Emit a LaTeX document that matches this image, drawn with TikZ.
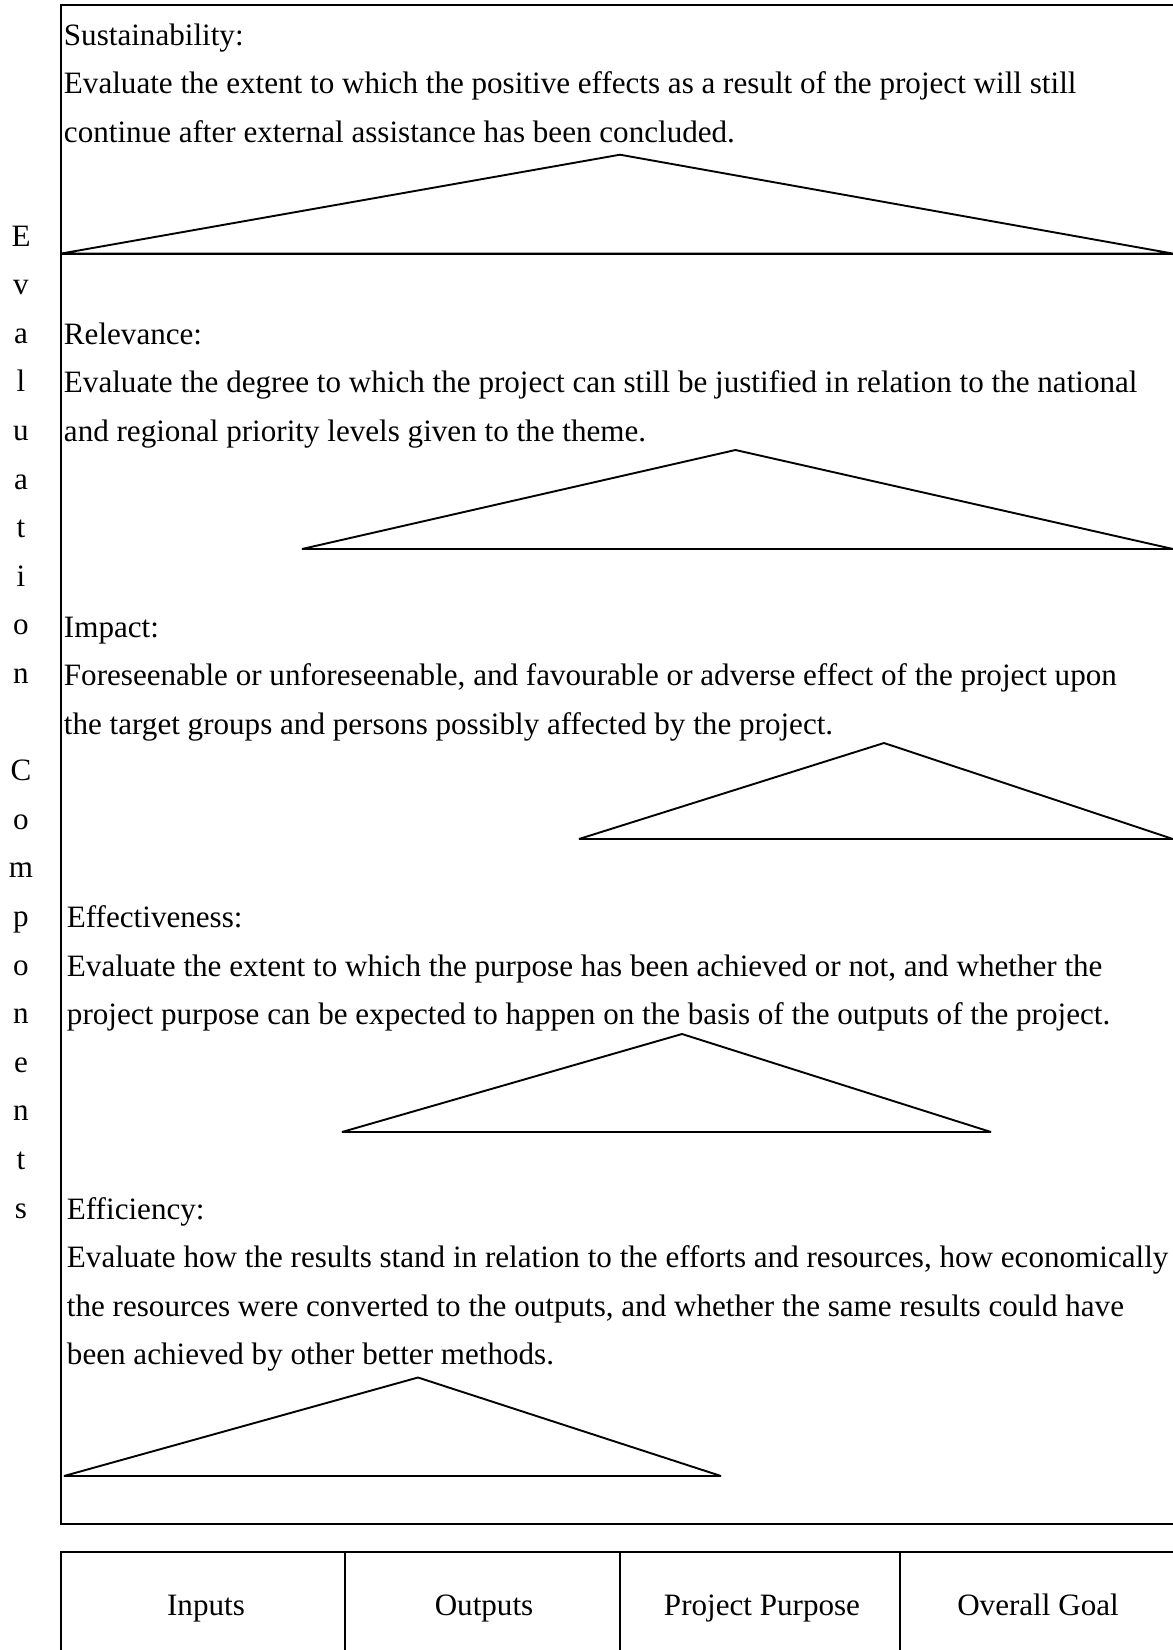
\documentclass[tikz,border=0pt]{standalone}
\usepackage{fontspec}
\setmainfont{Liberation Serif}
\begin{document}
\begin{tikzpicture}[x=1pt,y=-1pt,line width=1.9pt,
  body/.style={anchor=base west,inner sep=0pt,font=\fontsize{31.1}{36}\selectfont},
  letter/.style={anchor=base,inner sep=0pt,font=\fontsize{31.1}{36}\selectfont},
  boxlabel/.style={anchor=base,inner sep=0pt,font=\fontsize{31.1}{36}\selectfont},
  tri/.style={draw,line width=1.9pt,line join=miter,miter limit=4}]
\useasboundingbox (0,0) rectangle (1173,1650);

% outer frame of the evaluation components (open on the right)
\draw (1173,5) -- (61,5) -- (61,1524) -- (1173,1524);
\draw (61,253.6) -- (1173,253.6);

% vertical caption
\foreach \ch [count=\i from 0] in {E,v,a,l,u,a,t,i,o,n,{},C,o,m,p,o,n,e,n,t,s}
  \node[letter] (cap\i) at (21,{246+48.6*\i}) {\ch};

% Sustainability
\node[body] (sus1) at (63,45) {Sustainability:};
\node[body] (sus2) at (63,93.6) {Evaluate the extent to which the positive effects as a result of the project will still};
\node[body] (sus3) at (63,142.2) {continue after external assistance has been concluded.};
\draw[tri] (61,253.6) -- (620,154.7) -- (1173,253.6) -- cycle;

% Relevance
\node[body] (rel1) at (63,344.2) {Relevance:};
\node[body] (rel2) at (63,392.8) {Evaluate the degree to which the project can still be justified in relation to the national};
\node[body] (rel3) at (63,441.4) {and regional priority levels given to the theme.};
\draw[tri] (302,549) -- (735.5,450) -- (1173,549) -- cycle;

% Impact
\node[body] (imp1) at (63,637.5) {Impact:};
\node[body] (imp2) at (63,685.5) {Foreseenable or unforeseenable, and favourable or adverse effect of the project upon};
\node[body] (imp3) at (63,734) {the target groups and persons possibly affected by the project.};
\draw[tri] (579,839) -- (884,743) -- (1173,839) -- cycle;

% Effectiveness
\node[body] (eff1) at (66,927.4) {Effectiveness:};
\node[body] (eff2) at (66,976) {Evaluate the extent to which the purpose has been achieved or not, and whether the};
\node[body] (eff3) at (66,1024.6) {project purpose can be expected to happen on the basis of the outputs of the project.};
\draw[tri] (342,1132) -- (682,1034) -- (991,1132) -- cycle;

% Efficiency
\node[body] (efc1) at (66,1219) {Efficiency:};
\node[body] (efc2) at (66,1267.6) {Evaluate how the results stand in relation to the efforts and resources, how economically};
\node[body] (efc3) at (66,1316.2) {the resources were converted to the outputs, and whether the same results could have};
\node[body] (efc4) at (66,1364.8) {been achieved by other better methods.};
\draw[tri] (64,1476) -- (418,1377.5) -- (721,1476) -- cycle;

% logical framework row
\draw (1173,1552) -- (61,1552) -- (61,1650);
\draw (345,1552) -- (345,1650);
\draw (620,1552) -- (620,1650);
\draw (900,1552) -- (900,1650);
\node[boxlabel] (inputs) at (206,1615) {Inputs};
\node[boxlabel] (outputs) at (484,1615) {Outputs};
\node[boxlabel] (purpose) at (762,1615) {Project Purpose};
\node[boxlabel] (goal) at (1038,1615) {Overall Goal};
\end{tikzpicture}
\end{document}
